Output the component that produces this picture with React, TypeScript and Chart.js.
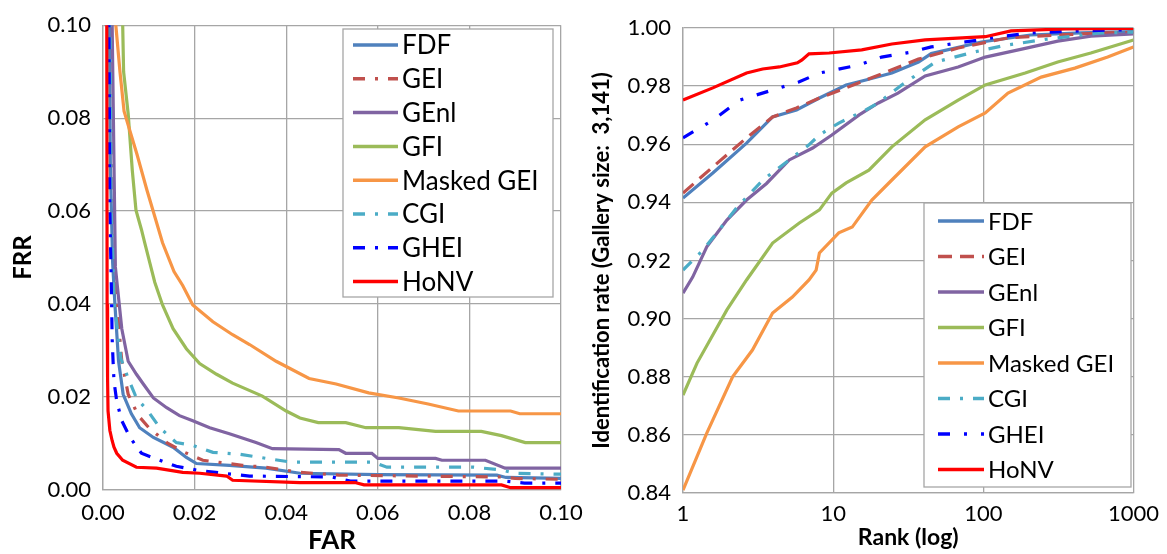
import React, { useEffect, useRef } from "react";
import { Chart, registerables } from "chart.js";

Chart.register(...registerables);
Chart.defaults.font.family = "Lato";

// ---------- shared series info ----------
const SERIES_NAMES = ["FDF", "GEI", "GEnl", "GFI", "Masked GEI", "CGI", "GHEI", "HoNV"];
const SERIES_COLORS = ["#4F81BD", "#C0504D", "#8064A2", "#9BBB59", "#F79646", "#4BACC6", "#0000FF", "#FF0000"];
const DASH_LEFT: number[][] = [[], [12, 10, 3, 10], [], [], [], [12, 10, 3, 10], [12, 10, 3, 10], []];
const DASH_RIGHT: number[][] = [[], [14, 8], [], [], [], [12, 10, 3, 10], [12, 14, 3, 14], []];

// ---------- left chart: FRR vs FAR ----------
const FAR_TICKS = [0, 0.02, 0.04, 0.06, 0.08, 0.1];
const FRR_TICKS = [0, 0.02, 0.04, 0.06, 0.08, 0.1];

const FDF_DET: [number, number][] = [
  [0.0013, 0.12], [0.0016, 0.07], [0.0021, 0.049], [0.0026, 0.04], [0.0034, 0.0277], [0.0044, 0.0206],
  [0.0062, 0.0164], [0.008, 0.0134], [0.011, 0.0113], [0.0153, 0.0092], [0.0182, 0.007], [0.0204, 0.0057],
  [0.0276, 0.0053], [0.0356, 0.0047], [0.043, 0.0036], [0.06, 0.0033], [0.086, 0.0032], [0.088, 0.0027], [0.1, 0.0025],
];
const GEI_DET: [number, number][] = [
  [0.0015, 0.12], [0.002, 0.06], [0.003, 0.04], [0.0041, 0.0277], [0.0055, 0.0206], [0.0077, 0.016],
  [0.0102, 0.0132], [0.0142, 0.01], [0.0178, 0.0081], [0.0218, 0.0064], [0.0304, 0.0053], [0.0356, 0.0049],
  [0.043, 0.0038], [0.0515, 0.0032], [0.087, 0.0028], [0.09, 0.0025], [0.1, 0.0023],
];
const GENL_DET: [number, number][] = [
  [0.0018, 0.12], [0.002, 0.1], [0.0027, 0.048], [0.0041, 0.0347], [0.0055, 0.0277], [0.0073, 0.0249],
  [0.0088, 0.0228], [0.011, 0.0198], [0.0139, 0.0177], [0.0167, 0.016], [0.0196, 0.0149], [0.0233, 0.0134],
  [0.0276, 0.0121], [0.0334, 0.0102], [0.037, 0.0089], [0.0515, 0.0087], [0.053, 0.0079], [0.0587, 0.0079],
  [0.06, 0.0068], [0.0726, 0.0068], [0.074, 0.0064], [0.0835, 0.0064], [0.0878, 0.0047], [0.1, 0.0047],
];
const GFI_DET: [number, number][] = [
  [0.0042, 0.12], [0.0043, 0.1], [0.0045, 0.09], [0.0055, 0.0809], [0.0064, 0.0687], [0.0072, 0.0602],
  [0.0084, 0.056], [0.0091, 0.0532], [0.0106, 0.0474], [0.0113, 0.0447], [0.013, 0.0398], [0.0153, 0.0347],
  [0.0182, 0.0304], [0.0211, 0.0272], [0.0248, 0.0249], [0.0283, 0.023], [0.0348, 0.0202], [0.04, 0.017],
  [0.043, 0.0155], [0.047, 0.0145], [0.053, 0.0145], [0.0574, 0.0134], [0.0646, 0.0134], [0.0726, 0.0126],
  [0.0826, 0.0126], [0.087, 0.0117], [0.0922, 0.0102], [0.1, 0.0102],
];
const MGEI_DET: [number, number][] = [
  [0.0026, 0.12], [0.0028, 0.1], [0.0037, 0.09], [0.0046, 0.0815], [0.0059, 0.0772], [0.0074, 0.0723],
  [0.0096, 0.0645], [0.0109, 0.0602], [0.013, 0.0532], [0.0155, 0.047], [0.0174, 0.044], [0.0196, 0.0398],
  [0.024, 0.0362], [0.0283, 0.0334], [0.032, 0.0313], [0.0378, 0.0277], [0.045, 0.024], [0.0509, 0.0228],
  [0.058, 0.0209], [0.0646, 0.0198], [0.071, 0.0185], [0.0776, 0.017], [0.089, 0.017], [0.091, 0.0164], [0.1, 0.0164],
];
const CGI_DET: [number, number][] = [
  [0.0014, 0.12], [0.0018, 0.06], [0.0025, 0.04], [0.0039, 0.0283], [0.0055, 0.024], [0.0073, 0.0198],
  [0.0098, 0.017], [0.0124, 0.0134], [0.016, 0.0102], [0.0196, 0.0096], [0.024, 0.0081], [0.0298, 0.0077],
  [0.037, 0.0066], [0.041, 0.006], [0.059, 0.006], [0.062, 0.0049], [0.081, 0.0049], [0.087, 0.0043],
  [0.09, 0.0036], [0.1, 0.0034],
];
const GHEI_DET: [number, number][] = [
  [0.0012, 0.12], [0.0015, 0.06], [0.0018, 0.045], [0.002, 0.0326], [0.0022, 0.0277], [0.0024, 0.0234],
  [0.003, 0.0191], [0.0041, 0.0149], [0.0059, 0.0113], [0.0084, 0.0079], [0.0124, 0.0064], [0.016, 0.0051],
  [0.0204, 0.0043], [0.0261, 0.0036], [0.032, 0.003], [0.05, 0.0028], [0.054, 0.0019], [0.088, 0.0019],
  [0.092, 0.0015], [0.1, 0.0015],
];
const HONV_DET: [number, number][] = [
  [0.0008, 0.12], [0.0009, 0.04], [0.001, 0.024], [0.0011, 0.017], [0.0015, 0.0128], [0.002, 0.0106],
  [0.0024, 0.0092], [0.003, 0.0079], [0.0043, 0.0064], [0.0073, 0.0049], [0.0117, 0.0047], [0.0174, 0.0038],
  [0.0211, 0.0036], [0.027, 0.003], [0.0283, 0.0021], [0.043, 0.0016], [0.055, 0.0016], [0.057, 0.0011],
  [0.087, 0.0011], [0.089, 0.0005], [0.1, 0.0005],
];
const DET_SERIES = [FDF_DET, GEI_DET, GENL_DET, GFI_DET, MGEI_DET, CGI_DET, GHEI_DET, HONV_DET];

// ---------- right chart: identification rate vs rank ----------
const RANK_TICKS = [1, 10, 100, 1000];
const RATE_TICKS = [0.84, 0.86, 0.88, 0.9, 0.92, 0.94, 0.96, 0.98, 1.0];

const FDF_CMC: [number, number][] = [
  [1, 0.9415], [1.58, 0.9501], [2.65, 0.9604], [3.95, 0.9694], [5.7, 0.9718], [8.1, 0.9759], [12.2, 0.9804],
  [16.5, 0.9821], [24.6, 0.9845], [37, 0.9883], [45, 0.9912], [97, 0.9952], [206, 0.9976], [446, 0.9983], [1000, 0.9988],
];
const GEI_CMC: [number, number][] = [
  [1, 0.9432], [1.58, 0.9522], [2.65, 0.9622], [3.95, 0.9694], [5.7, 0.9725], [8.1, 0.9759], [12.2, 0.9794],
  [16.5, 0.9821], [24.6, 0.9856], [37, 0.9893], [68, 0.9931], [146, 0.9966], [313, 0.9976], [640, 0.9983], [1000, 0.9985],
];
const GENL_CMC: [number, number][] = [
  [1, 0.9088], [1.16, 0.9143], [1.44, 0.9247], [1.96, 0.9339], [2.65, 0.9408], [3.6, 0.9465], [5.1, 0.9546],
  [7.3, 0.9587], [9.8, 0.9632], [14.9, 0.9701], [20, 0.9742], [27, 0.9776], [41, 0.9835], [68, 0.9866],
  [103, 0.99], [190, 0.993], [313, 0.9955], [520, 0.9972], [1000, 0.998],
];
const GFI_CMC: [number, number][] = [
  [1, 0.8737], [1.24, 0.8847], [1.96, 0.903], [2.65, 0.9133], [3.95, 0.926], [5.95, 0.9329], [8.1, 0.9374],
  [9.8, 0.9432], [12.2, 0.9467], [17.3, 0.9511], [24.6, 0.9591], [41, 0.9684], [68, 0.9752], [103, 0.9804],
  [190, 0.9845], [313, 0.9883], [520, 0.9914], [1000, 0.9959],
];
const MGEI_CMC: [number, number][] = [
  [1, 0.841], [1.44, 0.8606], [2.14, 0.88], [2.9, 0.8892], [3.95, 0.9019], [5.35, 0.9074], [6.9, 0.9133],
  [7.7, 0.9167], [8.1, 0.9226], [10.9, 0.9295], [13.4, 0.9315], [18.1, 0.9408], [24.6, 0.9477], [41, 0.9591],
  [68, 0.966], [103, 0.9708], [146, 0.9776], [243, 0.9831], [407, 0.9862], [673, 0.99], [1000, 0.9935],
];
const CGI_CMC: [number, number][] = [
  [1, 0.9167], [1.36, 0.9236], [2.3, 0.9384], [3.4, 0.9477], [5.1, 0.9546], [6.9, 0.9598], [8.1, 0.9632],
  [10.9, 0.9673], [16.5, 0.9718], [20, 0.9742], [28.6, 0.9804], [48, 0.9883], [88, 0.9918], [139, 0.994],
  [268, 0.9962], [574, 0.9982], [1000, 0.9986],
];
const GHEI_CMC: [number, number][] = [
  [1, 0.9622], [1.58, 0.9683], [2.39, 0.9752], [4.4, 0.9794], [5.9, 0.9814], [8.1, 0.9845], [14.9, 0.9873],
  [21, 0.99], [33, 0.9917], [45, 0.9935], [76, 0.9952], [125, 0.9969], [206, 0.9983], [446, 0.999], [1000, 0.9995],
];
const HONV_CMC: [number, number][] = [
  [1, 0.9752], [1.58, 0.9794], [2.65, 0.9845], [3.39, 0.9859], [4.38, 0.9866], [5.78, 0.988], [6.2, 0.989],
  [6.9, 0.9911], [9.4, 0.9914], [15.5, 0.9925], [24.6, 0.9945], [41, 0.9959], [103, 0.997], [153, 0.999],
  [350, 0.9997], [1000, 0.9999],
];
const CMC_SERIES = [FDF_CMC, GEI_CMC, GENL_CMC, GFI_CMC, MGEI_CMC, CGI_CMC, GHEI_CMC, HONV_CMC];

// ---------- helpers ----------
const GRID = "#A6A6A6";

type LegendBox = { left: number; top: number; right: number; bottom: number; firstY: number; step: number; lineX0: number; lineX1: number; textX: number; fontSize: number };

function boxLegendPlugin(box: LegendBox) {
  return {
    id: "boxLegend",
    afterDraw(chart: any) {
      const ctx: CanvasRenderingContext2D = chart.ctx;
      ctx.save();
      ctx.fillStyle = "#ffffff";
      ctx.fillRect(box.left, box.top, box.right - box.left, box.bottom - box.top);
      ctx.strokeStyle = GRID;
      ctx.lineWidth = 1.3;
      ctx.setLineDash([]);
      ctx.strokeRect(box.left, box.top, box.right - box.left, box.bottom - box.top);
      chart.data.datasets.forEach((ds: any, i: number) => {
        const y = box.firstY + i * box.step;
        ctx.setLineDash(ds.borderDash || []);
        ctx.strokeStyle = ds.borderColor;
        ctx.lineWidth = 3.5;
        ctx.beginPath();
        ctx.moveTo(box.lineX0, y);
        ctx.lineTo(box.lineX1, y);
        ctx.stroke();
        ctx.setLineDash([]);
        ctx.fillStyle = "#000000";
        ctx.font = `${box.fontSize}px Lato`;
        ctx.textBaseline = "alphabetic";
        ctx.textAlign = "left";
        ctx.fillText(ds.label, box.textX, y + box.fontSize * 0.36);
      });
      ctx.restore();
    },
  };
}

function axisCommon(tickFont: number, pad: number) {
  return {
    grid: { color: GRID, lineWidth: 1.3, drawTicks: false },
    border: { color: GRID, width: 1.3 },
    ticks: {
      color: "#000000",
      font: { family: "Lato", size: tickFont },
      padding: pad,
      maxRotation: 0,
      autoSkip: false,
    },
  };
}

function LeftChart() {
  const ref = useRef<HTMLCanvasElement>(null);
  useEffect(() => {
    if (!ref.current) return;
    const xc = axisCommon(22, 10);
    const yc = axisCommon(22, 12);
    const chart = new Chart(ref.current, {
      type: "line",
      data: {
        datasets: SERIES_NAMES.map((name, i) => ({
          label: name,
          data: DET_SERIES[i].map(([x, y]) => ({ x, y })),
          borderColor: SERIES_COLORS[i],
          backgroundColor: SERIES_COLORS[i],
          borderWidth: 3.2,
          borderDash: DASH_LEFT[i],
          pointRadius: 0,
          tension: 0,
          fill: false,
          order: SERIES_NAMES.length - 1 - i,
        })),
      },
      options: {
        responsive: false,
        animation: false,
        layout: { padding: { top: 20, right: 39, bottom: 0, left: 0 } },
        plugins: { legend: { display: false }, tooltip: { enabled: false } },
        scales: {
          x: {
            type: "linear",
            min: 0,
            max: 0.1,
            ...xc,
            afterBuildTicks: (s: any) => { s.ticks = FAR_TICKS.map((v) => ({ value: v })); },
            afterFit: (s: any) => { s.height = 64; },
            ticks: { ...xc.ticks, callback: (v: any) => Number(v).toFixed(2) },
            title: { display: true, text: "FAR", color: "#000000", font: { family: "Lato", size: 26, weight: "bold", lineHeight: 1 }, padding: { top: 0, bottom: 0 } },
          },
          y: {
            type: "linear",
            min: 0,
            max: 0.1,
            ...yc,
            afterBuildTicks: (s: any) => { s.ticks = FRR_TICKS.map((v) => ({ value: v })); },
            afterFit: (s: any) => { s.width = 103; },
            ticks: { ...yc.ticks, callback: (v: any) => Number(v).toFixed(2) },
            title: { display: true, text: "FRR", color: "#000000", font: { family: "Lato", size: 24, weight: "bold", lineHeight: 1 }, padding: { top: 11, bottom: 0 } },
          },
        },
      } as any,
      plugins: [
        boxLegendPlugin({ left: 343, top: 29, right: 553, bottom: 297, firstY: 45, step: 33.8, lineX0: 353, lineX1: 398, textX: 402, fontSize: 26 }),
      ],
    });
    return () => chart.destroy();
  }, []);
  return <canvas ref={ref} width={600} height={554} style={{ position: "absolute", left: 0, top: 0 }} />;
}

function RightChart() {
  const ref = useRef<HTMLCanvasElement>(null);
  useEffect(() => {
    if (!ref.current) return;
    const xc = axisCommon(22, 8);
    const yc = axisCommon(22, 12);
    const chart = new Chart(ref.current, {
      type: "line",
      data: {
        datasets: SERIES_NAMES.map((name, i) => ({
          label: name,
          data: CMC_SERIES[i].map(([x, y]) => ({ x, y })),
          borderColor: SERIES_COLORS[i],
          backgroundColor: SERIES_COLORS[i],
          borderWidth: 3.2,
          borderDash: DASH_RIGHT[i],
          pointRadius: 0,
          tension: 0,
          fill: false,
          order: SERIES_NAMES.length - 1 - i,
        })),
      },
      options: {
        responsive: false,
        animation: false,
        layout: { padding: { top: 28, right: 31, bottom: 0, left: 0 } },
        plugins: { legend: { display: false }, tooltip: { enabled: false } },
        scales: {
          x: {
            type: "logarithmic",
            min: 1,
            max: 1000,
            ...xc,
            afterBuildTicks: (s: any) => { s.ticks = RANK_TICKS.map((v) => ({ value: v })); },
            afterFit: (s: any) => { s.height = 61; },
            ticks: { ...xc.ticks, callback: (v: any) => String(Number(v)) },
            title: { display: true, text: "Rank (log)", color: "#000000", font: { family: "Lato", size: 23, weight: "bold", lineHeight: 1 }, padding: { top: 0, bottom: 5 } },
          },
          y: {
            type: "linear",
            min: 0.84,
            max: 1.0,
            ...yc,
            afterBuildTicks: (s: any) => { s.ticks = RATE_TICKS.map((v) => ({ value: v })); },
            afterFit: (s: any) => { s.width = 108; },
            ticks: { ...yc.ticks, callback: (v: any) => Number(v).toFixed(2) },
            title: { display: true, text: "Identification rate (Gallery size:  3,141)", color: "#000000", font: { family: "Lato", size: 22, weight: "bold", lineHeight: 1 }, padding: { top: 16, bottom: 0 } },
          },
        },
      } as any,
      plugins: [
        boxLegendPlugin({ left: 349, top: 203, right: 556, bottom: 487, firstY: 221, step: 35.5, lineX0: 363, lineX1: 409, textX: 413, fontSize: 24 }),
      ],
    });
    return () => chart.destroy();
  }, []);
  return <canvas ref={ref} width={592} height={554} style={{ position: "absolute", left: 575, top: 0 }} />;
}

export default function App() {
  return (
    <div style={{ position: "absolute", left: 0, top: 0, width: 1167, height: 554, background: "#ffffff", overflow: "hidden" }}>
      <LeftChart />
      <RightChart />
    </div>
  );
}
